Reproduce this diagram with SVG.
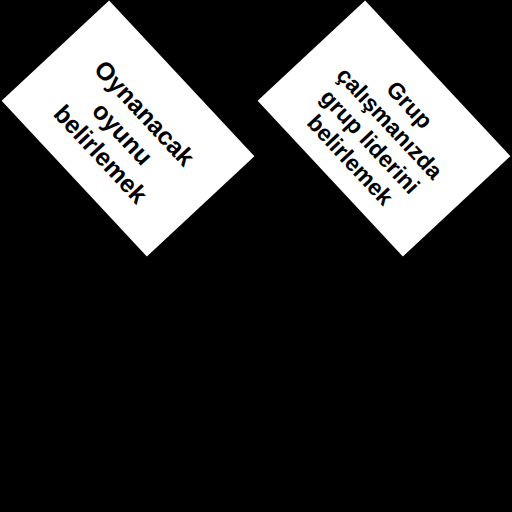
<svg xmlns="http://www.w3.org/2000/svg" width="512" height="512" viewBox="0 0 512 512">
<style>
.card{fill:#fff}
.t{font-family:"Liberation Sans",Arial,sans-serif;font-weight:bold;fill:#000;text-anchor:middle}
</style>
<rect x="0" y="0" width="512" height="512" fill="#000"/>
<g id="node1" transform="translate(128 128.5) rotate(47)">
<rect class="card" x="-106.5" y="-73.5" width="213" height="147"/>
<text class="t" font-size="25"><tspan x="0" y="-14">Oynanacak</tspan><tspan x="0" y="16">oyunu</tspan><tspan x="0" y="46">belirlemek</tspan></text>
</g>
<g id="node2" transform="translate(384 128.5) rotate(47)">
<rect class="card" x="-106.5" y="-73.5" width="213" height="147"/>
<text class="t" font-size="23"><tspan x="0" y="-27">Grup</tspan><tspan x="0" y="0">çalışmanızda</tspan><tspan x="0" y="27">grup liderini</tspan><tspan x="0" y="54">belirlemek</tspan></text>
</g>
<g id="connectors"></g>
</svg>
